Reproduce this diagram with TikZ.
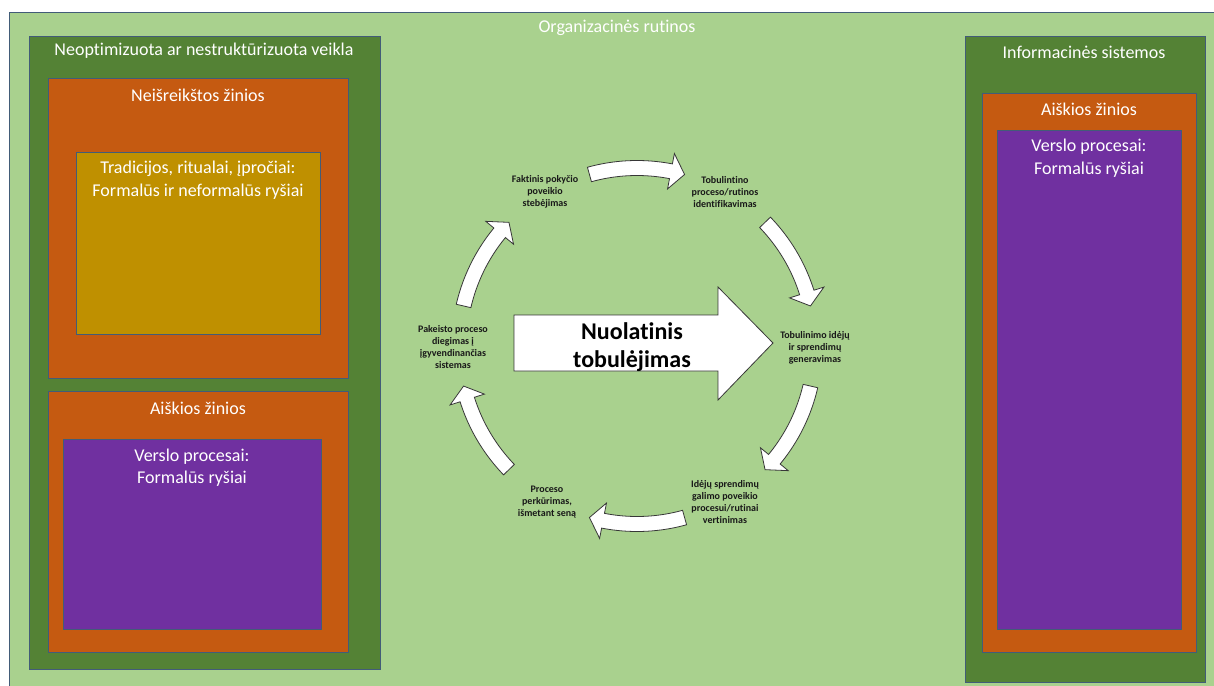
\documentclass[tikz,border=0pt]{standalone}
\usepackage{fontspec}
\setmainfont{Carlito}[Ligatures=NoCommon]
\definecolor{leaf}{HTML}{A9D18E}
\definecolor{forest}{HTML}{548235}
\definecolor{rust}{HTML}{C55A11}
\definecolor{ochre}{HTML}{BF9000}
\definecolor{violet}{HTML}{7030A0}
\definecolor{panelline}{RGB}{66,92,120}
\definecolor{arrowline}{RGB}{55,55,55}
\definecolor{steptxt}{RGB}{25,25,25}
% one curved white arrow of the improvement cycle;
% #1 = polar angle of its tail (y axis points down, so angles run clockwise)
\newcommand\cyclearrow[1]{%
  \pgfmathsetmacro\tailang{#1}%
  \pgfmathsetmacro\baseang{#1+26.5}%
  \pgfmathsetmacro\tipang{#1+31}%
  \draw[cyclearrowstyle]
    plot[domain=\tailang:\baseang,samples=24,variable=\t] (\t:185.5)
    -- (\baseang:196) -- (\tipang:178) -- (\baseang:160)
    -- plot[domain=\baseang:\tailang,samples=24,variable=\t] (\t:170.5)
    -- cycle;
}
\begin{document}
\begin{tikzpicture}[x=1pt,y=-1pt,
  panel/.style={draw=panelline,line width=0.8pt,inner sep=0pt,outer sep=0pt,anchor=north west},
  paneltitle/.style={text=white,font=\fontsize{18}{22.5}\selectfont,align=center,inner sep=0pt},
  steptext/.style={text=steptxt,font=\bfseries\fontsize{10}{12}\selectfont,align=center,inner sep=0pt},
  cyclearrowstyle/.style={fill=white,draw=arrowline,line width=0.8pt},
  bigarrow/.style={fill=white,draw=arrowline,line width=0.8pt},
  coretext/.style={text=black,font=\bfseries\fontsize{24}{28}\selectfont,align=center,inner sep=0pt}]
\useasboundingbox (0,0) rectangle (1214,685);
\fill[white] (0,0) rectangle (1214,685);

% organisational routines: the background panel
\node[panel,fill=leaf,minimum width=1213pt,minimum height=683pt] (org) at (9,12) {};
\node[paneltitle] (orgtitle) at (617,28) {Organizacinės rutinos};

% left column: unoptimised activity
\node[panel,fill=forest,minimum width=351pt,minimum height=633pt] (unopt) at (29,36) {};
\node[paneltitle] (unopttitle) at (204,51) {Neoptimizuota ar nestruktūrizuota veikla};

\node[panel,fill=rust,minimum width=300pt,minimum height=300pt] (tacit) at (48,78) {};
\node[paneltitle] (tacittitle) at (198,95) {Neišreikštos žinios};
\node[panel,fill=ochre,minimum width=244pt,minimum height=182pt] (tradition) at (76,152) {};
\node[paneltitle] (traditiontext) at (198,180) {Tradicijos, ritualai, įpročiai:\\Formalūs ir neformalūs ryšiai};

\node[panel,fill=rust,minimum width=300pt,minimum height=261pt] (explicitL) at (48,391) {};
\node[paneltitle] (explicitLtitle) at (198,408) {Aiškios žinios};
\node[panel,fill=violet,minimum width=258pt,minimum height=190pt] (processL) at (63,439) {};
\node[paneltitle] (processLtext) at (192,467.5) {Verslo procesai:\\Formalūs ryšiai};

% right column: information systems
\node[panel,fill=forest,minimum width=240pt,minimum height=646pt] (infosys) at (965,36) {};
\node[paneltitle] (infosystitle) at (1084,52) {Informacinės sistemos};
\node[panel,fill=rust,minimum width=214pt,minimum height=559pt] (explicitR) at (982,93) {};
\node[paneltitle] (explicitRtitle) at (1089,109) {Aiškios žinios};
\node[panel,fill=violet,minimum width=184pt,minimum height=499pt] (processR) at (997,130) {};
\node[paneltitle] (processRtext) at (1089,158) {Verslo procesai:\\Formalūs ryšiai};

% continuous improvement: central arrow
\draw[bigarrow] (514,315) -- (718,315) -- (718,287) -- (773,343)
  -- (718,400) -- (718,371) -- (514,371) -- cycle;
\node[coretext] (core) at (632,347) {Nuolatinis\\tobulėjimas};

% the six cycle steps
\node[steptext] (observe) at (545,191.5) {Faktinis pokyčio\\poveikio\\stebėjimas};
\node[steptext] (identify) at (725,192) {Tobulintino\\proceso/rutinos\\identifikavimas};
\node[steptext] (generate) at (815,347.5) {Tobulinimo idėjų\\ir sprendimų\\generavimas};
\node[steptext] (assess) at (725,502) {Idėjų sprendimų\\galimo poveikio\\procesui/rutinai\\vertinimas};
\node[steptext] (redesign) at (547,502) {Proceso\\perkūrimas,\\išmetant seną};
\node[steptext] (deploy) at (453,347.5) {Pakeisto proceso\\diegimas į\\įgyvendinančias\\sistemas};

% curved arrows between the steps, clockwise round the centre
\coordinate (hub) at (637,346);
\begin{scope}[shift={(hub)}]
  \cyclearrow{-105.5}
  \cyclearrow{-44}
  \cyclearrow{13}
  \cyclearrow{74.5}
  \cyclearrow{136}
  \cyclearrow{-167}
\end{scope}
\end{tikzpicture}
\end{document}
